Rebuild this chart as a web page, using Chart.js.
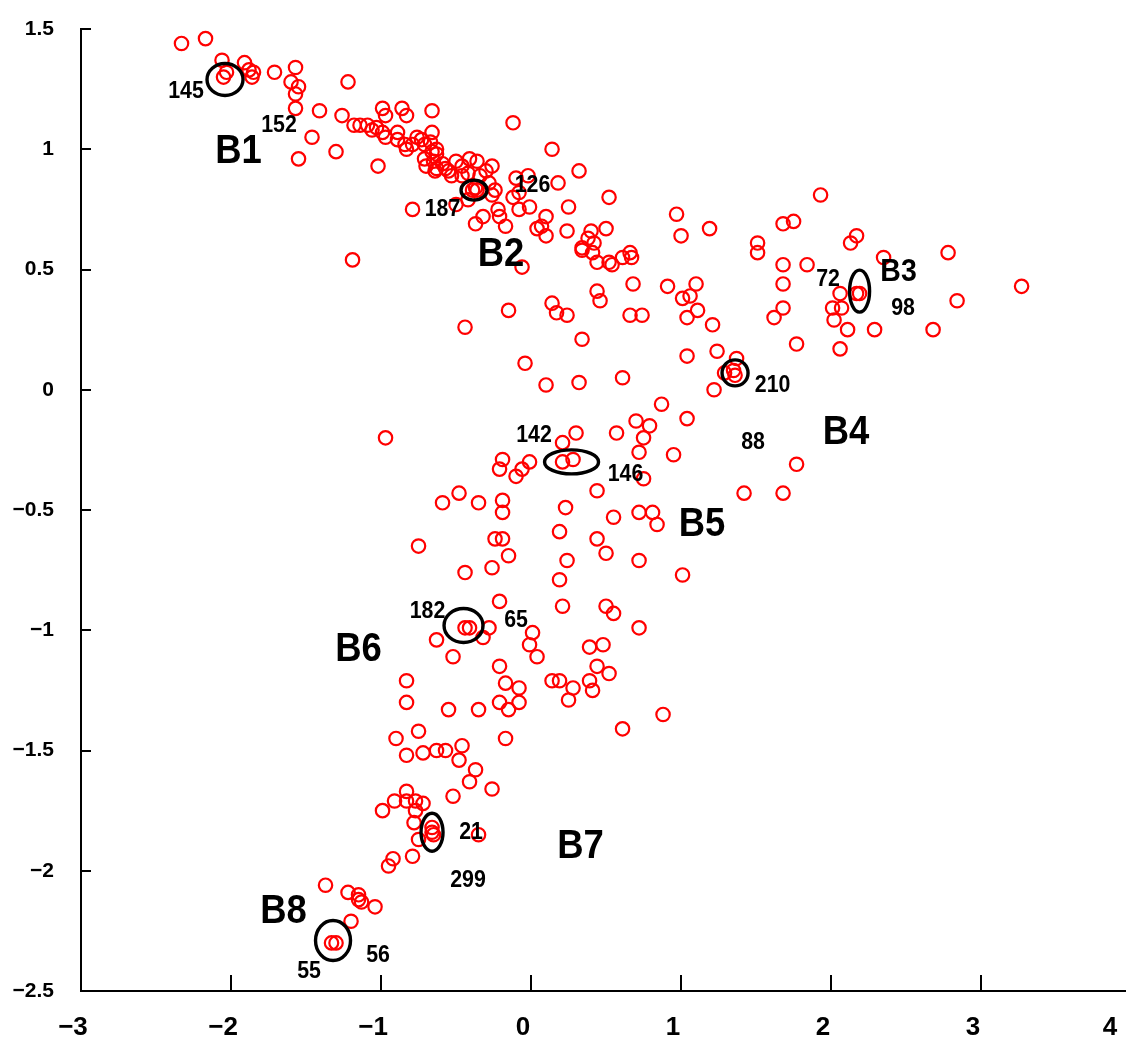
<!DOCTYPE html>
<html>
<head>
<meta charset="utf-8">
<script src="https://cdn.jsdelivr.net/npm/chart.js@4.4.1/dist/chart.umd.min.js"></script>
<style>
  html,body{margin:0;padding:0;background:#fff;overflow:hidden;}
  #wrap{width:1140px;height:1040px;}
</style>
</head>
<body>
<div id="wrap"><canvas id="c" width="1140" height="1040"></canvas></div>
<script>
/* score plot, red rings = samples, black rings + labels = annotations */
const FONT = "'Liberation Sans', Arial, sans-serif";
const NARROW = "'Liberation Sans Narrow', 'Arial Narrow', 'Liberation Sans', sans-serif";

// axis ticks
const xTickValues = [-3,-2,-1,0,1,2,3,4];
const xTickLabels = ['\u22123','\u22122','\u22121','0','1','2','3','4\u2003'];
const yTickValues = [1.5,1,0.5,0,-0.5,-1,-1.5,-2,-2.5];
const yTickLabels = ['1.5','1','0.5','0','\u22120.5','\u22121','\u22121.5','\u22122','\u22122.5'];

// samples, upper-left band (B1/B2)
const topX = [-2.33,-2.17,-2.06,-2.03,-2.05,-1.91,-1.88,-1.85,-1.86,-1.71,-1.57,-1.60,-1.55,-1.57,-1.57,-1.41,-1.46,-1.55,-1.22,-1.26,
  -1.30,-1.19,-0.79,-1.18,-1.14,-1.09,-1.06,-1.03,-0.99,-0.97,-0.99,-0.97,-0.86,-0.83,-0.66,-0.66,-1.02,-0.89,-0.89,-0.84,
  -0.83,-0.79,-0.76,-0.73,-0.71,-0.67,-0.66,-0.63,-0.71,-0.70,-0.65,-0.63,-0.59,-0.57,-0.55,-0.64,-0.63,-0.50,-0.46,-0.41,
  -0.36,-0.26,-0.30,-0.34,-0.42,-0.46,-0.53,-0.39,-0.37,-0.36,-0.42,-0.50,-0.32,-0.37,-0.22,-0.21,-0.17,-0.28,-0.24,-0.26,
  -0.12,0.14,0.32,-0.10,-0.02,0.18,-0.12,-0.08,-0.08,-0.01,0.25,0.10,0.07,0.04,0.10,0.24,0.52,0.50,0.40,0.38,
  0.42,0.34,0.34,0.41,0.44,0.52,0.54,0.61,0.66,0.67,0.68,-0.06,0.44,0.46,0.14,0.17,0.24,-0.15,-0.44,0.66,
  0.74,0.34,-0.04,0.10,0.32,0.61];
const topY = [1.44,1.46,1.37,1.32,1.30,1.36,1.33,1.32,1.30,1.32,1.34,1.28,1.26,1.23,1.17,1.16,1.05,0.96,1.28,1.14,
  0.99,0.54,0.75,1.10,1.10,1.10,1.08,1.09,1.07,1.05,1.17,1.14,1.17,1.14,1.16,1.07,0.93,1.07,1.04,1.02,
  1.00,1.02,1.05,1.04,1.02,1.03,0.99,1.00,0.96,0.93,0.95,0.92,0.94,0.92,0.91,0.91,0.98,0.95,0.93,0.96,
  0.95,0.93,0.91,0.89,0.90,0.89,0.89,0.83,0.84,0.83,0.79,0.77,0.72,0.69,0.75,0.72,0.68,0.86,0.83,0.81,
  1.11,1.00,0.91,0.88,0.89,0.86,0.80,0.82,0.75,0.76,0.76,0.72,0.68,0.67,0.64,0.66,0.80,0.67,0.66,0.63,
  0.61,0.59,0.58,0.57,0.53,0.53,0.52,0.55,0.57,0.55,0.44,0.51,0.41,0.37,0.36,0.32,0.31,0.33,0.26,0.31,
  0.31,0.21,0.11,0.02,0.03,0.05];

// samples, right side (B3/B4)
const rightX = [1.93,0.97,1.00,1.19,1.51,1.51,1.68,1.75,2.17,2.13,2.35,2.78,1.68,1.84,1.68,1.68,1.62,0.91,1.10,1.01,
  1.06,1.11,1.04,1.21,2.06,2.17,2.19,2.01,2.07,2.02,2.11,2.29,2.68,2.84,3.27,1.77,2.06,1.04,1.24,1.37,
  1.29,1.35,1.36,1.22,0.87,1.04,0.95,1.77,1.42,1.68];
const rightY = [0.81,0.73,0.64,0.67,0.61,0.57,0.69,0.70,0.64,0.61,0.55,0.57,0.52,0.52,0.44,0.34,0.30,0.43,0.44,0.38,
  0.39,0.33,0.30,0.27,0.40,0.40,0.40,0.34,0.34,0.29,0.25,0.25,0.25,0.37,0.43,0.19,0.17,0.14,0.16,0.13,
  0.07,0.08,0.06,0.00,-0.06,-0.12,-0.27,-0.31,-0.43,-0.43];

// samples, middle (B5/B6)
const midX = [-0.97,0.30,0.21,0.57,0.70,0.79,0.75,0.72,0.21,0.28,-0.19,-0.01,-0.21,-0.06,-0.10,0.75,0.44,-0.59,-0.48,-0.35,
  -0.19,-0.19,0.23,0.55,0.72,0.81,0.84,-0.75,-0.24,-0.19,-0.15,0.19,0.44,0.50,0.72,1.01,-0.44,-0.26,0.24,0.19,
  -0.21,0.21,0.50,0.55,-0.44,-0.41,-0.28,-0.32,0.01,-0.01,-0.63,0.72,0.39,0.48];
const midY = [-0.20,-0.18,-0.22,-0.18,-0.13,-0.15,-0.20,-0.26,-0.30,-0.29,-0.29,-0.30,-0.33,-0.33,-0.36,-0.37,-0.42,-0.47,-0.43,-0.47,
  -0.46,-0.51,-0.49,-0.53,-0.51,-0.51,-0.56,-0.65,-0.62,-0.62,-0.69,-0.59,-0.62,-0.68,-0.71,-0.77,-0.76,-0.74,-0.71,-0.79,
  -0.88,-0.90,-0.90,-0.93,-0.99,-0.99,-0.99,-1.03,-1.01,-1.06,-1.04,-0.99,-1.07,-1.06];

// samples, lower tail (B6/B7/B8)
const lowX = [-0.52,0.04,-0.21,-0.83,-0.83,-0.17,-0.08,-0.21,-0.08,-0.15,-0.55,-0.35,0.14,0.19,0.28,0.25,0.39,0.44,0.52,0.41,
  0.88,0.61,-0.17,-0.90,-0.75,-0.83,-0.72,-0.63,-0.57,-0.46,-0.48,-0.37,-0.41,-0.26,-0.52,-0.83,-0.91,-0.83,-0.77,-0.72,
  -0.99,-0.77,-0.78,-0.66,-0.66,-0.65,-0.75,-0.79,-0.92,-0.95,-0.35,-1.37,-1.22,-1.15,-1.15,-1.13,-1.04,-1.20,-1.33,-1.30];
const lowY = [-1.11,-1.11,-1.15,-1.21,-1.30,-1.22,-1.24,-1.30,-1.30,-1.33,-1.33,-1.33,-1.21,-1.21,-1.24,-1.29,-1.21,-1.15,-1.18,-1.25,
  -1.35,-1.41,-1.45,-1.45,-1.42,-1.52,-1.51,-1.50,-1.50,-1.48,-1.54,-1.58,-1.63,-1.66,-1.69,-1.67,-1.71,-1.71,-1.71,-1.72,
  -1.75,-1.75,-1.80,-1.82,-1.84,-1.85,-1.87,-1.94,-1.95,-1.98,-1.85,-2.06,-2.09,-2.10,-2.12,-2.13,-2.15,-2.21,-2.30,-2.30];

// black rings
const ringX = [-2.04,-0.38,2.19,1.36,0.27,-0.45,-0.66,-1.32];
const ringY = [1.29,0.83,0.41,0.07,-0.30,-0.98,-1.84,-2.29];

// group names
const groupNames = ['B1','B2','B3','B4','B5','B6','B7','B8'];
const groupX = [-1.95,-0.20,2.45,2.10,1.14,-1.15,0.33,-1.65];
const groupY = [0.99,0.56,0.49,-0.18,-0.56,-1.08,-1.90,-2.17];

// sample ids
const idText = ['145','152','187','126','72','98','210','88','142','146','182','65','21','299','56','55'];
const idX = [-2.30,-1.68,-0.59,0.01,1.98,2.48,1.61,1.48,0.02,0.63,-0.69,-0.10,-0.40,-0.42,-1.02,-1.48];
const idY = [1.24,1.10,0.75,0.85,0.46,0.34,0.02,-0.22,-0.19,-0.35,-0.92,-0.96,-1.84,-2.04,-2.35,-2.42];

// ring radii in px and label sizes (style)
const ringSize = [[18,16],[13,10],[10,21],[13,13],[27,12],[19.5,17],[11,19],[17.5,20]];
const groupSize = [41,41,32,41,41,41,41,41];

function pts(xs, ys){ return xs.map((x,i)=>({x, y:ys[i]})); }

function ds(data){
  return {data, pointStyle:'circle', pointRadius:6.7, pointBorderWidth:2.2,
    borderColor:'#ff0000', backgroundColor:'rgba(0,0,0,0)', showLine:false};
}

const overlay = {
  id:'overlay',
  afterDatasetsDraw(chart){
    const ctx = chart.ctx, xs = chart.scales.x, ys = chart.scales.y;
    const {left, bottom} = chart.chartArea;
    ctx.save();
    // inner tick marks
    ctx.strokeStyle = '#000'; ctx.lineWidth = 2;
    yTickValues.forEach(v=>{
      const y = Math.round(ys.getPixelForValue(v));
      ctx.beginPath(); ctx.moveTo(left, y); ctx.lineTo(left+10, y); ctx.stroke();
    });
    xTickValues.forEach(v=>{
      const x = Math.round(xs.getPixelForValue(v));
      ctx.beginPath(); ctx.moveTo(x, bottom); ctx.lineTo(x, bottom-16); ctx.stroke();
    });
    // rings
    ctx.lineWidth = 3.4;
    ringX.forEach((v,i)=>{
      ctx.beginPath();
      ctx.ellipse(xs.getPixelForValue(v), ys.getPixelForValue(ringY[i]), ringSize[i][0], ringSize[i][1], 0, 0, Math.PI*2);
      ctx.stroke();
    });
    // text
    ctx.fillStyle = '#000'; ctx.textAlign = 'center'; ctx.textBaseline = 'middle';
    const put = (t, x, y, size)=>{
      ctx.save();
      ctx.translate(xs.getPixelForValue(x), ys.getPixelForValue(y));
      ctx.scale(0.89, 1);
      ctx.font = `bold ${size}px ${FONT}`;
      ctx.fillText(t, 0, 0);
      ctx.restore();
    };
    groupNames.forEach((t,i)=> put(t, groupX[i], groupY[i], groupSize[i]));
    idText.forEach((t,i)=> put(t, idX[i], idY[i], 24));
    ctx.restore();
  }
};

new Chart(document.getElementById('c'), {
  type:'scatter',
  data:{ datasets:[ ds(pts(topX,topY)), ds(pts(rightX,rightY)), ds(pts(midX,midY)), ds(pts(lowX,lowY)) ] },
  options:{
    responsive:false, animation:false, events:[],
    layout:{padding:{top:29, right:8, left:0, bottom:0}},
    plugins:{legend:{display:false}, tooltip:{enabled:false}},
    scales:{
      x:{
        type:'linear', min:-3, max:4,
        grid:{display:false, drawTicks:false},
        border:{display:true, color:'#000', width:2},
        afterBuildTicks:(s)=>{ s.ticks = xTickValues.map(v=>({value:v})); },
        afterFit:(s)=>{ s.height = 49; s.paddingLeft = 0; s.paddingRight = 0; },
        ticks:{ padding:21, labelOffset:-8, autoSkip:false, maxRotation:0, color:'#000',
          font:{family:NARROW, size:26, weight:'bold'},
          callback:(v)=> xTickLabels[xTickValues.indexOf(v)] }
      },
      y:{
        type:'linear', min:-2.5, max:1.5,
        grid:{display:false, drawTicks:false},
        border:{display:true, color:'#000', width:2},
        afterBuildTicks:(s)=>{ s.ticks = yTickValues.map(v=>({value:v})); },
        afterFit:(s)=>{ s.width = 81; s.paddingTop = 0; s.paddingBottom = 0; },
        ticks:{ padding:27, autoSkip:false, color:'#000',
          font:{family:FONT, size:21, weight:'bold'},
          callback:(v)=> yTickLabels[yTickValues.indexOf(v)] }
      }
    }
  },
  plugins:[overlay]
});
</script>
</body>
</html>
